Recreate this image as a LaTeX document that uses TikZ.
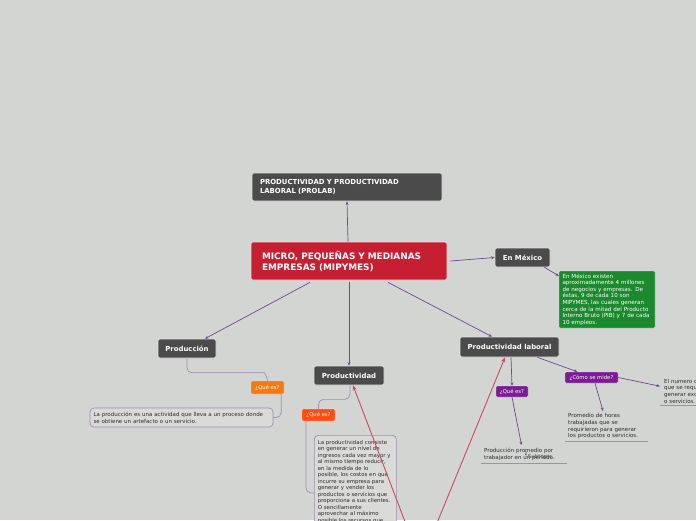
\documentclass[tikz,border=0pt]{standalone}
\usepackage{fontspec}
\setmainfont{DejaVu Sans}
\usetikzlibrary{arrows.meta}
\definecolor{bg}{RGB}{211,213,210}
\definecolor{dkbox}{RGB}{75,75,75}
\definecolor{bord}{RGB}{225,225,225}
\definecolor{mainred}{RGB}{198,31,50}
\definecolor{grn}{RGB}{27,138,46}
\definecolor{orng}{RGB}{244,122,16}
\definecolor{redor}{RGB}{255,77,18}
\definecolor{purp}{RGB}{122,29,145}
\definecolor{conncol}{RGB}{110,75,140}
\definecolor{subl}{RGB}{160,141,176}
\definecolor{notefill}{RGB}{218,219,216}
\definecolor{notetxt}{RGB}{45,45,45}
\definecolor{relcol}{RGB}{208,72,92}
\tikzset{
 topic/.style={fill=dkbox, draw=bord, line width=0.7pt, rounded corners=2pt, text=white,
   font=\fontsize{6.9}{8.5}\selectfont\bfseries, inner sep=0pt},
 tag/.style={draw=bord, line width=0.4pt, rounded corners=1.2pt, text=white,
   font=\fontsize{5.3}{6}\selectfont, inner sep=0pt},
 note/.style={fill=notefill, draw=subl, line width=0.7pt, rounded corners=4pt, text=notetxt,
   font=\fontsize{5.5}{7}\selectfont, align=left, inner sep=0pt},
 plain/.style={text=notetxt, font=\fontsize{5.5}{6.6}\selectfont, align=left, inner sep=0pt},
 conn/.style={draw=conncol, line width=0.7pt, -{Stealth[length=3.5pt,width=3pt]}},
 subc/.style={draw=subl, line width=0.7pt, rounded corners=5pt},
 rel/.style={draw=relcol, line width=0.9pt, -{Stealth[length=5pt,width=4pt]}},
 uline/.style={draw=subl, line width=0.8pt},
}
\begin{document}
\begin{tikzpicture}[x=1pt,y=-1pt]
\useasboundingbox (0,0) rectangle (696,520);
\fill[bg] (0,0) rectangle (696,520);
\clip (0,0) rectangle (696,520);

% main topics
\node[topic, fill=mainred, minimum width=196pt, minimum height=38pt, text width=174pt, align=left,
  font=\fontsize{8.9}{11}\selectfont\bfseries] (main) at (349,261) {MICRO, PEQUEÑAS Y MEDIANAS\\EMPRESAS (MIPYMES)};
\node[topic, minimum width=190pt, minimum height=28pt, text width=174pt, align=left] (prolab) at (347,187)
  {PRODUCTIVIDAD Y PRODUCTIVIDAD\\LABORAL (PROLAB)};
\node[topic, minimum width=55pt, minimum height=19pt] (enmex) at (522.5,257.5) {En México};
\node[tag, fill=grn, minimum width=96pt, minimum height=57pt, text width=89pt, align=left,
  font=\fontsize{5.6}{6.6}\selectfont] (green) at (607,299.5)
  {En México existen\\aproximadamente 4 millones\\de negocios y empresas. De\\éstas, 9 de cada 10 son\\MIPYMES, las cuales generan\\cerca de la mitad del Producto\\Interno Bruto (PIB) y 7 de cada\\10 empleos.};
\node[topic, minimum width=58pt, minimum height=19pt] (prod) at (187,348.5) {Producción};
\node[topic, minimum width=70pt, minimum height=19pt] (prodv) at (349,375.5) {Productividad};
\node[topic, minimum width=99pt, minimum height=20pt] (plab) at (509.5,347) {Productividad laboral};

% Producción branch
\node[tag, fill=orng, minimum width=33pt, minimum height=13pt] (q1) at (267.5,387.5) {¿Qué es?};
\node[note, minimum width=183pt, minimum height=19pt, text width=176pt] (np) at (181.5,417.5)
  {La producción es una actividad que lleva a un proceso donde\\se obtiene un artefacto o un servicio.};

% Productividad branch
\node[tag, fill=redor, minimum width=33pt, minimum height=12pt] (q2) at (318.5,415) {¿Qué es?};
\node[note, anchor=north west, minimum width=82pt, text width=75pt, inner ysep=5pt,
  font=\fontsize{5.4}{6.5}\selectfont] (npv) at (314,435)
  {La productividad consiste\\en generar un nivel de\\ingresos cada vez mayor y\\al mismo tiempo reducir,\\en la medida de lo\\posible, los costos en que\\incurre su empresa para\\generar y vender los\\productos o servicios que\\proporciona a sus clientes.\\O sencillamente\\aprovechar al máximo\\posible los recursos que\\};

% Productividad laboral branch
\node[tag, fill=purp, minimum width=32pt, minimum height=11pt] (q3) at (512,391.5) {¿Qué es?};
\node[tag, fill=purp, minimum width=53pt, minimum height=11pt] (como) at (591.5,377.5) {¿Cómo se mide?};
\node[plain, anchor=north west, minimum width=86pt, minimum height=18pt, text width=80pt] (tl1) at (481,445)
  {Producción promedio por\\trabajador en un periodo.};
\node[plain, text=notetxt!80!bg] (subt) at (540,456.5) {Subtopic};
\node[plain, anchor=north west, minimum width=83pt, minimum height=30pt, text width=77pt] (tm) at (565,411)
  {Promedio de horas\\trabajadas que se\\requirieron para generar\\los productos o servicios.};
\node[plain, anchor=north west, minimum width=100pt, minimum height=28pt, text width=92pt] (tr) at (660,377)
  {El numero de horas\\que se requieren para\\generar excedentes\\o servicios.};

% connectors
\draw[conn] ([xshift=-1pt]main.north) -- (prolab.south);
\draw[conn] ([xshift=3pt]main.east) -- (enmex.west);
\draw[conn] ([xshift=-6pt]enmex.south east) -- ([yshift=-5pt]green.north west);
\draw[conn] ([xshift=-39pt,yshift=-2pt]main.south) -- ([xshift=18pt]prod.north);
\draw[conn] ([yshift=-2pt]main.south) -- (prodv.north);
\draw[conn] ([xshift=39pt,yshift=-2pt]main.south) -- ([xshift=-17.5pt]plab.north);

\draw[subc] (prod.south) |- ([xshift=-8pt,yshift=8pt]q1.north) to[out=0,in=90] (q1.north);
\draw[subc] ([xshift=-3pt]q1.south east) |- (np.east);
\draw[subc] ([xshift=1pt]prodv.south) -- ++(0,14) -| (q2.north);
\draw[subc] ([xshift=-12.5pt]q2.south) |- ([yshift=-58pt]npv.north west);

\coordinate (ra) at (412,540);
\coordinate (rb) at (430,540);
\draw[rel] (ra) -- ([xshift=4pt]prodv.south);
\draw[rel] (rb) -- ([xshift=-4.5pt]plab.south);

\draw[conn] ([xshift=1.5pt]plab.south) -- (q3.north);
\draw[conn] ([xshift=28pt]plab.south) -- ([xshift=-14pt]como.north);
\draw[conn] (q3.south) -- ([xshift=40.5pt]tl1.north west);
\draw[conn] ([xshift=3.5pt]como.south) -- ([xshift=38pt]tm.north west);
\draw[conn] (como.east) -- ([yshift=5pt]tr.west);
\coordinate (sa) at (526,451);
\draw[conn, -{Stealth[length=2pt,width=2pt]}] (sa) -- ([xshift=-2pt,yshift=1pt]subt.west);

\draw[uline] (tl1.south west) -- (tl1.south east);
\draw[uline] (tm.south west) -- (tm.south east);
\draw[uline] (tr.south west) -- (tr.south east);
\end{tikzpicture}
\end{document}
